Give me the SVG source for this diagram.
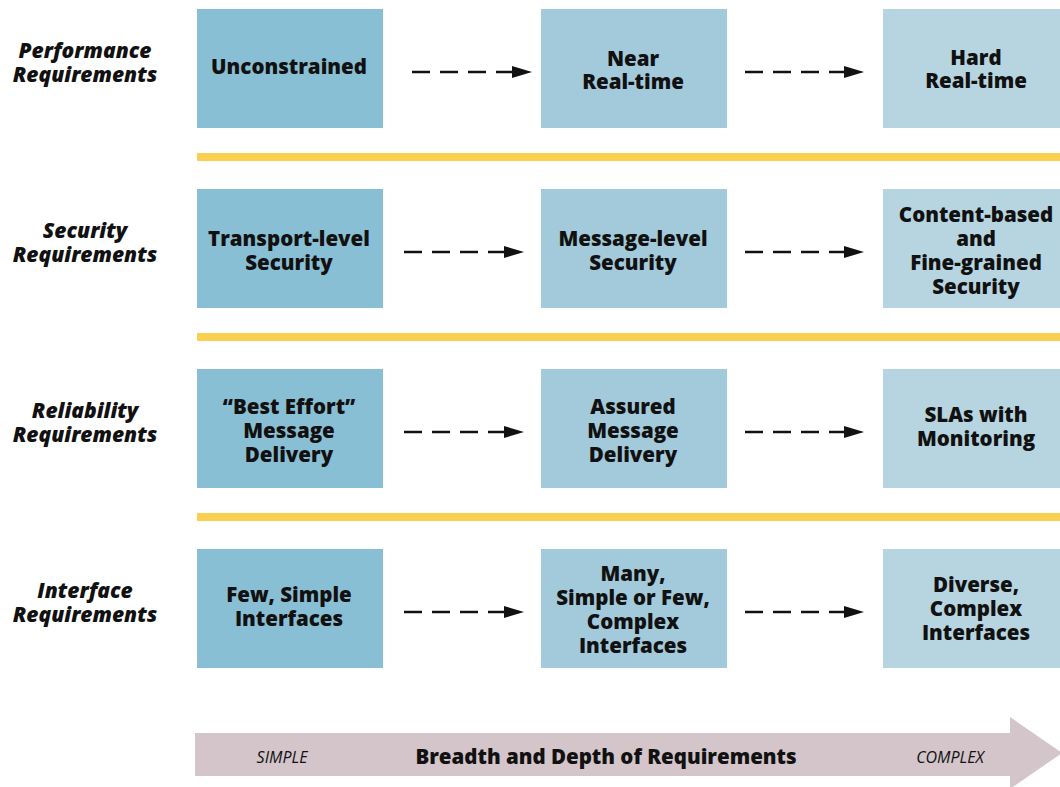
<svg xmlns="http://www.w3.org/2000/svg" width="1060" height="787" viewBox="0 0 1060 787">
<style>
.c1{fill:#89bfd4}.c2{fill:#a2cadb}.c3{fill:#b7d5e0}
.bar{fill:#fbcf50}
.t{font-family:"Open Sans","Noto Sans",sans-serif;font-weight:800;font-size:20.5px;fill:#111;text-anchor:middle}
.lab{font-family:"Open Sans","Noto Sans",sans-serif;font-weight:800;font-style:italic;font-size:21px;fill:#111;text-anchor:middle}
.dash{stroke:#111;stroke-width:2.5;stroke-dasharray:18 10;fill:none}
.ax{font-family:"Open Sans","Noto Sans",sans-serif;font-style:italic;font-size:16px;fill:#111;text-anchor:middle}
</style>
<defs>
<marker id="ah" markerUnits="userSpaceOnUse" markerWidth="20" markerHeight="12" refX="0" refY="6" orient="auto" overflow="visible">
<path d="M0,0 L20,6 L0,12 Z" fill="#111"/>
</marker>
</defs>
<rect width="1060" height="787" fill="#fff"/>
<g id="row-labels">
<text class="lab" x="85" y="58">Performance</text>
<text class="lab" x="85" y="82">Requirements</text>
<text class="lab" x="85" y="238">Security</text>
<text class="lab" x="85" y="262">Requirements</text>
<text class="lab" x="85" y="418">Reliability</text>
<text class="lab" x="85" y="442">Requirements</text>
<text class="lab" x="85" y="598">Interface</text>
<text class="lab" x="85" y="622">Requirements</text>
</g>
<g id="separators">
<rect class="bar" x="197" y="153" width="863" height="8"/>
<rect class="bar" x="197" y="333" width="863" height="8"/>
<rect class="bar" x="197" y="513" width="863" height="8"/>
</g>
<g id="n-unconstrained"><rect class="c1" x="197" y="9" width="186" height="119"/><text class="t" x="289" y="74">Unconstrained</text></g>
<g id="n-nearrt"><rect class="c2" x="541" y="9" width="186" height="119"/><text class="t" x="633" y="66">Near</text><text class="t" x="633" y="89">Real-time</text></g>
<g id="n-hardrt"><rect class="c3" x="883" y="9" width="186" height="119"/><text class="t" x="976" y="65">Hard</text><text class="t" x="976" y="88">Real-time</text></g>
<g id="n-transport"><rect class="c1" x="197" y="189" width="186" height="119"/><text class="t" x="289" y="246">Transport-level</text><text class="t" x="289" y="270">Security</text></g>
<g id="n-message"><rect class="c2" x="541" y="189" width="186" height="119"/><text class="t" x="633" y="246">Message-level</text><text class="t" x="633" y="270">Security</text></g>
<g id="n-content"><rect class="c3" x="883" y="189" width="186" height="119"/><text class="t" x="976" y="222">Content-based</text><text class="t" x="976" y="246">and</text><text class="t" x="976" y="270">Fine-grained</text><text class="t" x="976" y="294">Security</text></g>
<g id="n-besteffort"><rect class="c1" x="197" y="369" width="186" height="119"/><text class="t" x="289" y="414">“Best Effort”</text><text class="t" x="289" y="438">Message</text><text class="t" x="289" y="462">Delivery</text></g>
<g id="n-assured"><rect class="c2" x="541" y="369" width="186" height="119"/><text class="t" x="633" y="414">Assured</text><text class="t" x="633" y="438">Message</text><text class="t" x="633" y="462">Delivery</text></g>
<g id="n-slas"><rect class="c3" x="883" y="369" width="186" height="119"/><text class="t" x="976" y="422">SLAs with</text><text class="t" x="976" y="446">Monitoring</text></g>
<g id="n-few"><rect class="c1" x="197" y="549" width="186" height="119"/><text class="t" x="289" y="602">Few, Simple</text><text class="t" x="289" y="626">Interfaces</text></g>
<g id="n-many"><rect class="c2" x="541" y="549" width="186" height="119"/><text class="t" x="633" y="581">Many,</text><text class="t" x="633" y="605">Simple or Few,</text><text class="t" x="633" y="629">Complex</text><text class="t" x="633" y="653">Interfaces</text></g>
<g id="n-diverse"><rect class="c3" x="883" y="549" width="186" height="119"/><text class="t" x="976" y="592">Diverse,</text><text class="t" x="976" y="616">Complex</text><text class="t" x="976" y="640">Interfaces</text></g>
<g id="connectors">
<path class="dash" d="M412,72 H512" marker-end="url(#ah)"/>
<path class="dash" d="M745,72 H844" marker-end="url(#ah)"/>
<path class="dash" d="M404,252 H504" marker-end="url(#ah)"/>
<path class="dash" d="M745,252 H844" marker-end="url(#ah)"/>
<path class="dash" d="M404,432 H504" marker-end="url(#ah)"/>
<path class="dash" d="M745,432 H844" marker-end="url(#ah)"/>
<path class="dash" d="M404,612 H504" marker-end="url(#ah)"/>
<path class="dash" d="M745,612 H844" marker-end="url(#ah)"/>
</g>
<g id="axis">
<path d="M195,733 H1010 V717 L1062,753 L1010,789 V776 H195 Z" fill="#d3c5c9"/>
<text class="ax" x="282" y="763">SIMPLE</text>
<text class="t" x="606" y="764">Breadth and Depth of Requirements</text>
<text class="ax" x="950" y="763">COMPLEX</text>
</g>
</svg>
